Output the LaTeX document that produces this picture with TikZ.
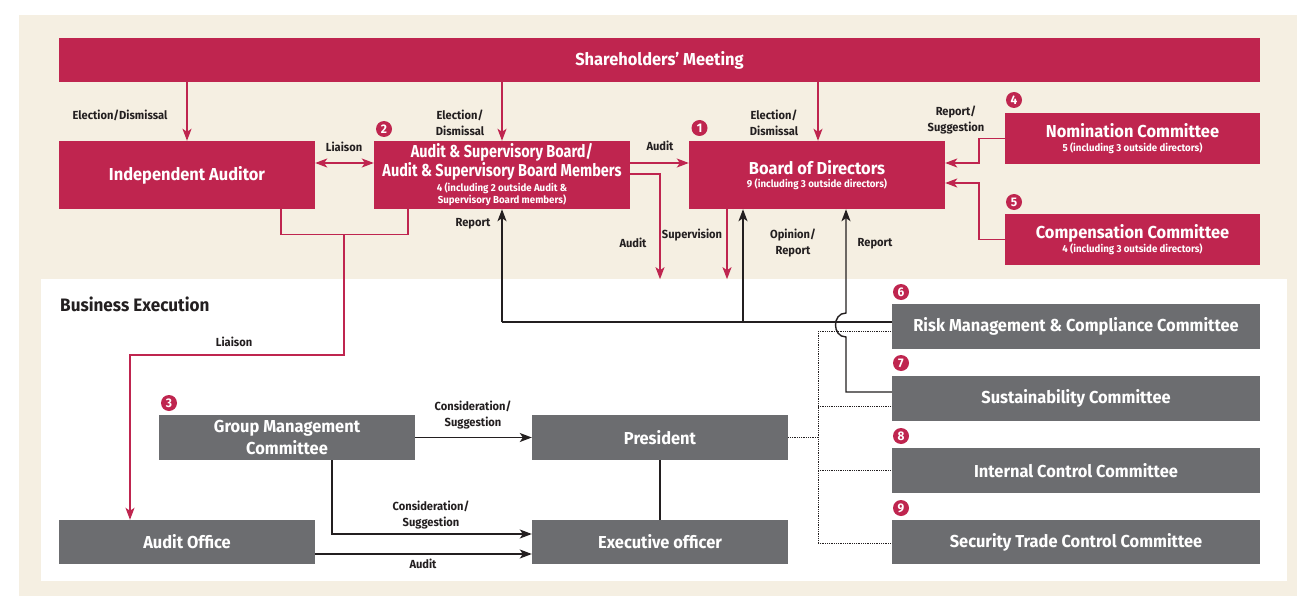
\documentclass[tikz,border=0pt]{standalone}
\usepackage{fontspec}
\usepackage{graphicx}
\setmainfont{Fira Sans}[FakeStretch=0.95]
\usetikzlibrary{arrows.meta,calc}
\definecolor{crim}{HTML}{BF254F}
\definecolor{gbox}{HTML}{6C6D70}
\definecolor{beige}{HTML}{F5EFE2}
\definecolor{ink}{HTML}{231F20}
\newcommand\tfont{\fontsize{17.3}{16.5}\selectfont\bfseries}
\newcommand\sfont{\fontsize{10.2}{11}\selectfont\bfseries}
\newcommand\lfont{\fontsize{11.7}{16}\selectfont\bfseries}
\newcommand\hfont{\fontsize{18}{18}\selectfont\bfseries}
\newcommand\bfont{\fontsize{12.5}{12}\selectfont\bfseries}
\newcommand\narrow[1]{\scalebox{0.88}[1]{#1}}
\begin{document}
\begin{tikzpicture}[x=1pt,y=-1pt,
 box/.style={draw=none,text=white,align=center,inner sep=0pt,font=\tfont},
 redbox/.style={box,fill=crim},
 graybox/.style={box,fill=gbox},
 lbl/.style={text=ink,align=center,inner sep=0pt,font=\lfont},
 badge/.style={circle,fill=crim,text=white,inner sep=0pt,minimum size=16pt,font=\bfont},
 tip/.tip={Stealth[length=12pt,width=9pt,inset=3pt]},
 rline/.style={draw=crim,line width=1.4pt},
 rarrow/.style={rline,-tip},
 bline/.style={draw=ink,line width=1.4pt},
 barrow/.style={bline,-tip},
 dline/.style={draw=ink,line width=0.8pt,densely dotted},
]
\useasboundingbox (0,0) rectangle (1297,596);
\fill[beige] (19,15) rectangle (1297,596);
\fill[white] (41,279) rectangle (1287,581);

% top boxes
\node[redbox,minimum width=1201pt,minimum height=44pt] (sm) at (659.5,60) {Shareholders’ Meeting};
\node[redbox,minimum width=256pt,minimum height=68pt] (ia) at (187,175) {Independent Auditor};
\node[redbox,minimum width=256pt,minimum height=68pt] (asb) at (502,175)
 {\narrow{Audit \& Supervisory Board/}\\\narrow{Audit \& Supervisory Board Members}\\[-1.5pt]{\sfont 4 (including 2 outside Audit \&}\\[-4.5pt]{\sfont Supervisory Board members)}};
\node[redbox,minimum width=256pt,minimum height=68pt] (bod) at (817,175)
 {Board of Directors\\[-3pt]{\sfont 9 (including 3 outside directors)}};
\node[redbox,minimum width=255pt,minimum height=51pt] (nom) at (1132.5,138.5)
 {Nomination Committee\\[-3pt]{\sfont 5 (including 3 outside directors)}};
\node[redbox,minimum width=255pt,minimum height=51pt] (comp) at (1132.5,239.5)
 {Compensation Committee\\[-3pt]{\sfont 4 (including 3 outside directors)}};

% bottom boxes
\node[graybox,minimum width=256pt,minimum height=45pt] (gmc) at (287,437.5) {Group Management\\[3.5pt]Committee};
\node[graybox,minimum width=256pt,minimum height=44pt] (ao) at (187,542) {Audit Office};
\node[graybox,minimum width=256pt,minimum height=45pt] (pres) at (660,437.5) {President};
\node[graybox,minimum width=256pt,minimum height=44pt] (exec) at (660,542) {Executive officer};
\node[graybox,minimum width=368pt,minimum height=45pt] (risk) at (1076,326.5) {Risk Management \& Compliance Committee};
\node[graybox,minimum width=368pt,minimum height=45pt] (sus) at (1076,398.5) {Sustainability Committee};
\node[graybox,minimum width=368pt,minimum height=45pt] (icc) at (1076,470.5) {Internal Control Committee};
\node[graybox,minimum width=368pt,minimum height=44pt] (stc) at (1076,542) {Security Trade Control Committee};

% badges
\node[badge] (b1) at (699.5,128) {1};
\node[badge] (b2) at (384,129) {2};
\node[badge] (b3) at (169,403) {3};
\node[badge] (b4) at (1014,100) {4};
\node[badge] (b5) at (1014,202) {5};
\node[badge] (b6) at (901,292) {6};
\node[badge] (b7) at (901,363) {7};
\node[badge] (b8) at (901,436) {8};
\node[badge] (b9) at (901,508) {9};

% red connectors
\draw[rarrow] (ia.north |- sm.south) -- (ia.north);
\draw[rarrow] (asb.north |- sm.south) -- (asb.north);
\draw[rarrow] ($(bod.north |- sm.south)+(1,0)$) -- ($(bod.north)+(1,0)$);
\draw[rline,tip-tip] ($(ia.east)+(0,-12)$) -- ($(asb.west)+(0,-12)$);
\draw[rarrow] ($(asb.east)+(0,-12)$) -- ($(bod.west)+(0,-12)$);
\draw[rarrow] ($(asb.east)+(0,-1)$) -| ($(bod.south)+(-157,70)$);
\draw[rarrow] ($(bod.south)+(-90,0)$) -- ++(0,70);
\draw[rarrow] (nom.west) -- ++(-26,0) |- ($(bod.east)+(0,-12)$);
\draw[rarrow] (comp.west) -- ++(-26,0) |- ($(bod.east)+(0,8)$);
\draw[rline] ($(ia.south)+(94,0)$) -- ++(0,25) -| ($(asb.south)+(-94,0)$);
\coordinate (lz) at (344,234);
\draw[rarrow] (lz) -- (344,355) -| ($(ao.north)+(-57,0)$);

% black connectors
\coordinate (j1) at (502,322);
\coordinate (j2) at (743,322);
\draw[bline] ($(risk.west)+(0,-4.5)$) -- (j1);
\draw[barrow] (j1) -- (asb.south);
\draw[barrow] (j2) -- (j2 |- bod.south);
\draw[barrow] ($(sus.west)+(0,-6.5)$) -- (846,392) -- (846,337)
  .. controls (832,337) and (832,313) .. (846,313) -- ($(bod.south)+(29,0)$);
\draw[barrow] (gmc.east) -- (pres.west);
\draw[barrow] ($(gmc.south)+(45,0)$) |- ($(exec.west)+(0,-8)$);
\draw[barrow] ($(ao.east)+(0,12)$) -- ($(exec.west)+(0,12)$);
\draw[bline] (pres.south) -- (exec.north);

% dotted connectors
\draw[dline] (818,331) -- (818,543);
\draw[dline] (818,331) -- ($(risk.west)+(0,4.5)$);
\draw[dline] (818,406) -- ($(sus.west)+(0,7.5)$);
\draw[dline] (818,470.5) -- (icc.west);
\draw[dline] (818,543) -- ($(stc.west)+(0,1)$);
\draw[dline] (pres.east) -- (818,437.5);

% labels
\node[lbl] (l1) at (120,115) {Election/Dismissal};
\node[lbl] (l2) at (460,123) {Election/\\Dismissal};
\node[lbl] (l3) at (344,147) {Liaison};
\node[lbl] (l4) at (660,146) {Audit};
\node[lbl] (l5) at (774,123) {Election/\\Dismissal};
\node[lbl] (l6) at (956,120) {Report/\\Suggestion};
\node[lbl] (l7) at (473,224) {Report};
\node[lbl] (l8) at (633,243) {Audit};
\node[lbl] (l9) at (692,235) {Supervision};
\node[lbl] (l10) at (793,243) {Opinion/\\Report};
\node[lbl] (l11) at (875,244) {Report};
\node[lbl,anchor=west,font=\hfont] (l12) at (60,304) {Business Execution};
\node[lbl] (l13) at (234,342) {Liaison};
\node[lbl] (l14) at (473,415) {Consideration/\\Suggestion};
\node[lbl] (l15) at (431,515) {Consideration/\\Suggestion};
\node[lbl] (l16) at (423,564) {Audit};
\end{tikzpicture}
\end{document}
